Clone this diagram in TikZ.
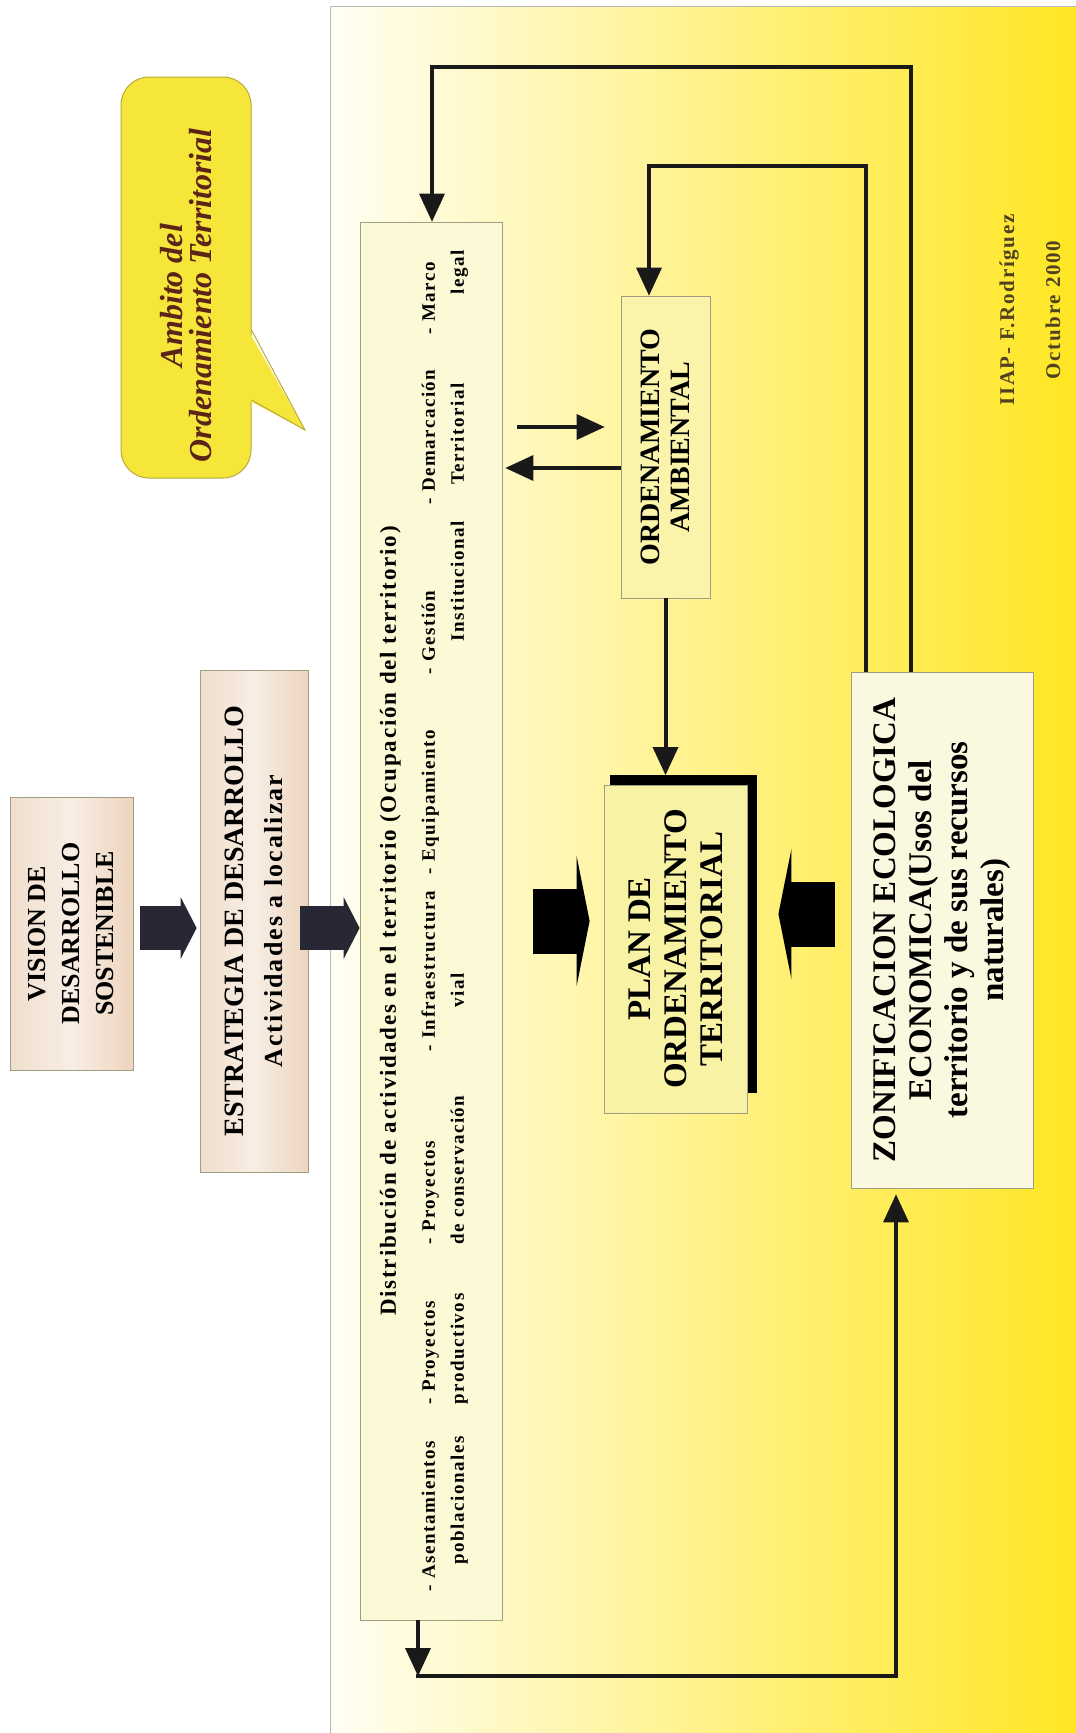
\documentclass[tikz,border=0pt]{standalone}
\usepackage{fontspec}
\setmainfont{Liberation Serif}
\newfontfamily\spaced[LetterSpace=8]{Liberation Serif}
\usetikzlibrary{arrows.meta}

\definecolor{panelL}{RGB}{255,254,243}
\definecolor{panelM}{RGB}{252,245,170}
\definecolor{panelR}{RGB}{255,230,35}
\definecolor{beigeL}{RGB}{240,222,205}
\definecolor{beigeM}{RGB}{248,238,228}
\definecolor{beigeR}{RGB}{237,213,190}
\definecolor{cream}{RGB}{252,249,214}
\definecolor{paleyellow}{RGB}{250,244,170}
\definecolor{planyellow}{RGB}{248,242,165}
\definecolor{zeecream}{RGB}{250,248,222}
\definecolor{boxline}{RGB}{160,158,130}
\definecolor{navy}{RGB}{40,40,52}
\definecolor{bubble}{RGB}{246,230,58}
\definecolor{bubbleline}{RGB}{185,170,60}
\definecolor{maroon}{RGB}{92,36,22}
\definecolor{olivetext}{RGB}{80,66,30}

\newcommand{\colbox}[2]{\makebox[#1pt][l]{#2}}

\begin{document}
\begin{tikzpicture}[x=1pt, y=-1pt,
    box/.style={draw=boxline, line width=0.8pt, rotate=90, inner sep=0pt, align=center},
    beige/.style={box, left color=beigeL, right color=beigeR, middle color=beigeM},
    blockarrow/.style={draw=navy, line width=44pt, -{Triangle[length=16pt, width=62pt, line width=0pt]}},
    bigarrow/.style={draw=black, line width=65pt, -{Triangle[length=13pt, width=130pt, line width=0pt]}},
    conn/.style={draw=black!90, line width=4pt, -{Triangle[length=28pt, width=26pt, line width=0pt]}}]
    \useasboundingbox (0,0) rectangle (1076,1733);
    \shade[left color=panelL, middle color=panelM, right color=panelR] (330,6) rectangle (1076,1733);
    \draw[gray!55, line width=1pt] (330,1733) -- (330,6) -- (1076,6);

    \node[rotate=90, rounded corners=28pt, draw=bubbleline, fill=bubble, line width=1pt, minimum width=401pt, minimum height=130pt, inner sep=0pt, align=center, text=maroon, font=\bfseries\itshape\fontsize{32}{29}\selectfont] (ambito) at (186,277.5) {Ambito del\rule{36pt}{0pt}\\Ordenamiento Territorial\rule{36pt}{0pt}};
    \fill[bubble] (248,330) -- (305,430) -- (248,400) -- cycle;
    \draw[bubbleline, line width=1pt] (ambito.south |- 0,330) -- (305,430) -- (ambito.south |- 0,400);

    \node[beige, minimum width=273pt, minimum height=123pt, font=\bfseries\fontsize{26}{34}\selectfont] (vision) at (71.5,933.5) {VISION DE\\DESARROLLO\\SOSTENIBLE};
    \node[beige, minimum width=502pt, minimum height=108pt] (estr) at (254,921) {{\bfseries\fontsize{28}{30}\selectfont ESTRATEGIA DE DESARROLLO}\\[20pt]{\spaced\bfseries\fontsize{26}{28}\selectfont Actividades a localizar}};
    \node[box, fill=cream, minimum width=1398pt, minimum height=142pt, font=\spaced\bfseries\fontsize{19}{29}\selectfont] (dist) at (431,921) {{\fontsize{23}{29}\selectfont Distribución de actividades en el territorio (Ocupación del territorio)}\\[10pt]
        \colbox{187}{- Asentamientos}\colbox{160}{- Proyectos}\colbox{193}{- Proyectos}\colbox{177}{- Infraestructura}\colbox{200}{- Equipamiento}\colbox{170}{- Gestión}\colbox{170}{- Demarcación}\colbox{84}{- Marco}\\
        \hspace*{27pt}\colbox{160}{poblacionales}\colbox{160}{productivos}\colbox{237}{de conservación}\colbox{366}{vial}\colbox{157}{Institucional}\colbox{190}{Territorial}\colbox{44}{legal}\rule[-18pt]{0pt}{18pt}};
    \node[box, fill=paleyellow, minimum width=302pt, minimum height=89pt, font=\bfseries\fontsize{28}{30}\selectfont] (ordamb) at (665.5,447) {ORDENAMIENTO\\AMBIENTAL};
    \fill (610,775) rectangle (757,1093);
    \node[box, fill=planyellow, minimum width=328pt, minimum height=143pt, font=\bfseries\fontsize{33}{36}\selectfont] (plan) at (675.5,949) {PLAN DE\\ORDENAMIENTO\\TERRITORIAL};
    \node[box, fill=zeecream, minimum width=516pt, minimum height=182pt, font=\bfseries\fontsize{33}{36}\selectfont] (zee) at (942,930) {ZONIFICACION ECOLOGICA\\ECONOMICA(Usos del\\territorio y de sus recursos\\naturales)};
    \node[rotate=90, inner sep=0pt, align=center, text=olivetext, font=\spaced\bfseries\fontsize{21}{46}\selectfont] (iiap) at (1030,310) {IIAP- F.Rodríguez\\Octubre 2000};

    \draw[blockarrow, shorten <=7pt, shorten >=3pt] (vision.south |- 0,928) -- (estr.north |- 0,928);
    \draw[blockarrow, shorten <=-8pt] (estr.south |- 0,928) -- (dist.north |- 0,928);
    \draw[bigarrow, shorten <=31pt, shorten >=14pt] (dist.south |- 0,921) -- (plan.north |- 0,921);
    \draw[bigarrow, shorten <=16pt, shorten >=31pt] (zee.north |- 0,914) -- (plan.south |- 0,914);
    \draw[conn] (ordamb.west) -- (ordamb.west |- 0,775);
    \draw[conn, shorten <=15pt, shorten >=16pt] (dist.south |- 0,427) -- (ordamb.north |- 0,427);
    \draw[conn, shorten >=3pt] (ordamb.north |- 0,468) -- (dist.south |- 0,468);
    \draw[conn] (911,0 |- zee.east) |- (432,67) -- (432,0 |- dist.east);
    \draw[conn] (866,0 |- zee.east) |- (649,166) -- (649,0 |- ordamb.east);
    \draw[conn] (418,0 |- dist.west) -- (418,1676);
    \draw[conn, shorten <=-2pt, shorten >=6pt] (418,1676) -| (896,0 |- zee.west);
\end{tikzpicture}
\end{document}
